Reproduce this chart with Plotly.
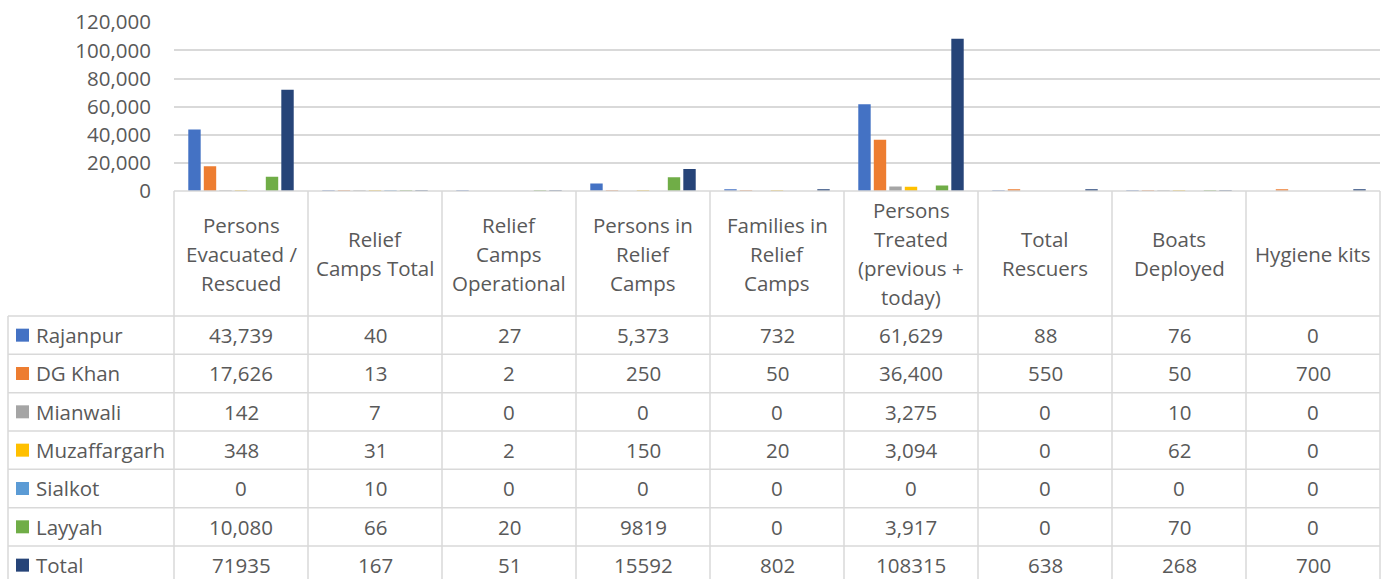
import plotly.graph_objects as go

# ---------------- data ----------------
categories = [
    "Persons Evacuated / Rescued",
    "Relief Camps Total",
    "Relief Camps Operational",
    "Persons in Relief Camps",
    "Families in Relief Camps",
    "Persons Treated (previous + today)",
    "Total Rescuers",
    "Boats Deployed",
    "Hygiene kits",
]
header_lines = [
    ["Persons", "Evacuated /", "Rescued"],
    ["Relief", "Camps Total"],
    ["Relief", "Camps", "Operational"],
    ["Persons in", "Relief", "Camps"],
    ["Families in", "Relief", "Camps"],
    ["Persons", "Treated", "(previous +", "today)"],
    ["Total", "Rescuers"],
    ["Boats", "Deployed"],
    ["Hygiene kits"],
]
series_names = ["Rajanpur", "DG Khan", "Mianwali", "Muzaffargarh", "Sialkot", "Layyah", "Total"]
rajanpur     = [43739, 40, 27, 5373, 732, 61629, 88, 76, 0]
dg_khan      = [17626, 13, 2, 250, 50, 36400, 550, 50, 700]
mianwali     = [142, 7, 0, 0, 0, 3275, 0, 10, 0]
muzaffargarh = [348, 31, 2, 150, 20, 3094, 0, 62, 0]
sialkot      = [0, 10, 0, 0, 0, 0, 0, 0, 0]
layyah       = [10080, 66, 20, 9819, 0, 3917, 0, 70, 0]
total        = [71935, 167, 51, 15592, 802, 108315, 638, 268, 700]
series_values = [rajanpur, dg_khan, mianwali, muzaffargarh, sialkot, layyah, total]
# cells shown without thousands separator in the source table
no_comma_series = {"Total"}
no_comma_cells = {("Layyah", 3)}
y_ticks = [0, 20000, 40000, 60000, 80000, 100000, 120000]

# ---------------- style ----------------
colors = ["#4472C4", "#ED7D31", "#A5A5A5", "#FFC000", "#5B9BD5", "#70AD47", "#264478"]
W, H = 1386, 579
FONT = "Open Sans"
FS = 20.5
TXT = "#595959"
GRID = "#D9D9D9"


def px(x):
    return x / W


def py(y):
    return 1 - y / H


plot_left, plot_right = 174, 1380
plot_top, plot_bottom = 22.3, 191
col_w = (plot_right - plot_left) / len(categories)
table_left = 8
header_bottom = 316
row_h = 38.33

fig = go.Figure()
for name, vals, c in zip(series_names, series_values, colors):
    fig.add_trace(go.Bar(x=categories, y=vals, name=name, marker=dict(color=c, line=dict(width=0)),
                         showlegend=False))

shapes = []
line = dict(color=GRID, width=1.5)
# axis line / top of header
shapes.append(dict(type="line", xref="paper", yref="paper", x0=px(plot_left), x1=px(plot_right),
                   y0=py(plot_bottom), y1=py(plot_bottom), line=line))
# vertical lines of the header + body
for i in range(len(categories) + 1):
    x = plot_left + i * col_w
    shapes.append(dict(type="line", xref="paper", yref="paper", x0=px(x), x1=px(x),
                       y0=py(plot_bottom), y1=py(H + 10), line=line))
shapes.append(dict(type="line", xref="paper", yref="paper", x0=px(table_left), x1=px(table_left),
                   y0=py(header_bottom), y1=py(H + 10), line=line))
# horizontal row lines
for r in range(len(series_names)):
    y = header_bottom + r * row_h
    shapes.append(dict(type="line", xref="paper", yref="paper", x0=px(table_left), x1=px(plot_right),
                       y0=py(y), y1=py(y), line=line))

annotations = []
# header text
line_gap = 29
header_mid = (plot_bottom + header_bottom) / 2
for i, lines in enumerate(header_lines):
    n = len(lines)
    for k, t in enumerate(lines):
        yc = header_mid + (k - (n - 1) / 2) * line_gap
        annotations.append(dict(x=categories[i], xref="x", y=py(yc), yref="paper", text=t,
                                showarrow=False, xanchor="center", yanchor="middle",
                                font=dict(family=FONT, size=FS, color=TXT)))

# rows
for r, (name, vals, c) in enumerate(zip(series_names, series_values, colors)):
    yc = header_bottom + (r + 0.5) * row_h
    shapes.append(dict(type="rect", xref="paper", yref="paper", x0=px(16), x1=px(29),
                       y0=py(yc + 6.5), y1=py(yc - 6.5), fillcolor=c, line=dict(width=0)))
    annotations.append(dict(x=px(34), xref="paper", y=py(yc), yref="paper", text=name,
                            showarrow=False, xanchor="left", yanchor="middle",
                            font=dict(family=FONT, size=FS, color=TXT)))
    for i, v in enumerate(vals):
        if name in no_comma_series or (name, i) in no_comma_cells:
            t = f"{v}"
        else:
            t = f"{v:,}"
        annotations.append(dict(x=categories[i], xref="x", y=py(yc), yref="paper", text=t,
                                showarrow=False, xanchor="center", yanchor="middle",
                                font=dict(family=FONT, size=FS, color=TXT)))

fig.update_layout(
    template="none",
    width=W, height=H, autosize=False,
    margin=dict(l=0, r=0, t=0, b=0, pad=0, autoexpand=False),
    paper_bgcolor="white", plot_bgcolor="white",
    barmode="group", bargap=0.19, bargroupgap=0.2,
    font=dict(family=FONT, size=FS, color=TXT),
    xaxis=dict(domain=[px(plot_left), px(plot_right)], showticklabels=False, showgrid=False,
               zeroline=False, showline=False, fixedrange=True, automargin=False, ticks=""),
    yaxis=dict(domain=[py(plot_bottom), py(plot_top)], range=[0, 120000], tickvals=y_ticks,
               tickformat=",", showgrid=True, gridcolor=GRID, gridwidth=1.5, zeroline=False,
               showline=False, ticks="", ticklabelstandoff=22, automargin=False,
               tickfont=dict(family=FONT, size=FS, color=TXT), fixedrange=True),
    shapes=shapes,
    annotations=annotations,
    hovermode=False,
)

fig.write_html("out.html", config={"displayModeBar": False},
               post_script="document.body.style.margin='0';document.body.style.overflow='hidden';")
